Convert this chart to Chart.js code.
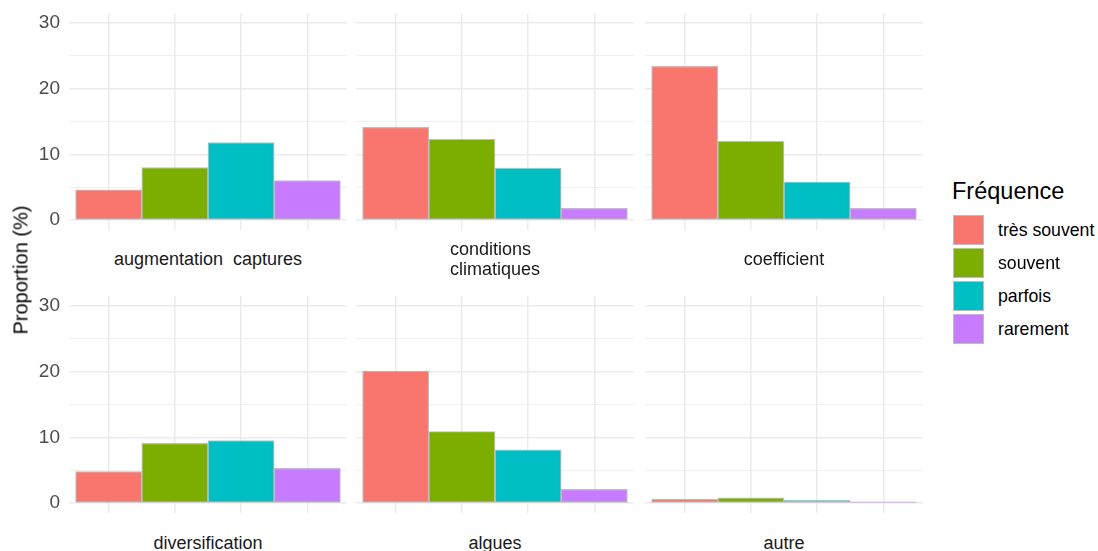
<!DOCTYPE html>
<html>
<head>
<meta charset="utf-8">
<script src="https://cdn.jsdelivr.net/npm/chart.js@4.4.1/dist/chart.umd.min.js"></script>
<style>
  html, body { margin: 0; padding: 0; background: #fff; }
  #wrap { position: relative; width: 1098px; height: 551px; overflow: hidden; font-family: "Liberation Sans", Arial, sans-serif; }
  .cv { position: absolute; }
  .lbl { position: absolute; transform: translate(-50%, -50%); white-space: pre; color: #1a1a1a; font-size: 18px; line-height: 20px; }
  #ytitle { position: absolute; left: 21px; top: 270px; transform: translate(-50%, -50%) rotate(-90deg); font-size: 20px; color: #000; white-space: nowrap; }
  #legTitle { position: absolute; left: 952px; top: 178px; font-size: 23.5px; color: #000; white-space: nowrap; }
  .key { position: absolute; left: 953px; width: 29px; height: 28px; border: 1px solid #bdbdbd; }
  .ktxt { position: absolute; left: 998px; font-size: 17.7px; color: #000; white-space: nowrap; transform: translateY(-50%); }
</style>
</head>
<body>
<div id="wrap"></div>
<script>
// ---- data ----
const facetLabels = ['augmentation  captures', 'conditions\nclimatiques', 'coefficient', 'diversification', 'algues', 'autre'];
const frequences = ['très souvent', 'souvent', 'parfois', 'rarement'];
const tresSouvent = [4.6, 14.1, 23.4, 4.8, 20.1, 0.6];
const souvent     = [8.0, 12.3, 12.0, 9.1, 10.9, 0.8];
const parfois     = [11.8, 7.9, 5.8, 9.5, 8.1, 0.45];
const rarement    = [6.0, 1.8, 1.8, 5.3, 2.1, 0.2];
const yTicks = [0, 10, 20, 30];
const yMinorTicks = [5, 15, 25];
const xPositions = [1, 2, 3, 4];
const yTitle = 'Proportion (%)';
const legendTitle = 'Fréquence';

const series = [tresSouvent, souvent, parfois, rarement];
const colors = ['#F8766D', '#7CAE00', '#00BFC4', '#C77CFF'];

// ---- layout ----
const colLeft = [69, 356, 645];
const panelW = 278;
const rowTop = [13, 296];
const panelH = 217;
const pad = 14;

const wrap = document.getElementById('wrap');

facetLabels.forEach((lab, i) => {
  const col = i % 3, row = Math.floor(i / 3);
  const left = col === 0;
  const cv = document.createElement('canvas');
  cv.className = 'cv';
  const x0 = left ? 0 : colLeft[col];
  const w = left ? colLeft[0] + panelW : panelW;
  const h = panelH + 2 * pad;
  cv.style.left = x0 + 'px';
  cv.style.top = (rowTop[row] - pad) + 'px';
  cv.style.width = w + 'px';
  cv.style.height = h + 'px';
  cv.width = w; cv.height = h;
  wrap.appendChild(cv);

  const allY = yTicks.concat(yMinorTicks).sort((a, b) => a - b);

  new Chart(cv, {
    type: 'bar',
    data: {
      datasets: [{
        data: xPositions.map((x, j) => ({ x: x, y: series[j][i] })),
        backgroundColor: colors,
        borderColor: '#bdbdbd',
        borderWidth: 1.2,
        borderSkipped: false,
        barPercentage: 1,
        categoryPercentage: 1
      }]
    },
    options: {
      responsive: false,
      animation: false,
      devicePixelRatio: 1,
      layout: { padding: { top: pad, bottom: pad, left: 0, right: 0 } },
      plugins: { legend: { display: false }, tooltip: { enabled: false } },
      scales: {
        x: {
          type: 'linear',
          offset: false,
          min: 0.4, max: 4.6,
          afterBuildTicks: s => { s.ticks = xPositions.map(v => ({ value: v })); },
          ticks: { display: false },
          grid: { color: '#ebebeb', lineWidth: 1.5, drawTicks: false, offset: false },
          border: { display: false },
          afterFit: s => { s.height = 0; s.paddingLeft = 0; s.paddingRight = 0; }
        },
        y: {
          min: -1.5, max: 31.5,
          afterBuildTicks: s => { s.ticks = allY.map(v => ({ value: v })); },
          ticks: {
            display: left,
            padding: 9,
            color: '#4d4d4d',
            font: { family: '"Liberation Sans", Arial, sans-serif', size: 19 },
            callback: v => yTicks.includes(v) ? String(v) : ''
          },
          grid: {
            drawTicks: false,
            color: '#ebebeb',
            lineWidth: ctx => yTicks.includes(ctx.tick && ctx.tick.value) ? 1.5 : 0.8
          },
          border: { display: false },
          afterFit: s => { s.width = left ? colLeft[0] : 0; s.paddingTop = 0; s.paddingBottom = 0; }
        }
      }
    }
  });

  const d = document.createElement('div');
  d.className = 'lbl';
  d.textContent = lab;
  const cx = colLeft[col] + panelW / 2;
  d.style.left = cx + 'px';
  d.style.top = (row === 0 ? 259 : 543) + 'px';
  if (lab.includes('\n')) { d.style.textAlign = 'left'; }
  wrap.appendChild(d);
});

const yt = document.createElement('div');
yt.id = 'ytitle'; yt.textContent = yTitle; wrap.appendChild(yt);

const lt = document.createElement('div');
lt.id = 'legTitle'; lt.textContent = legendTitle; wrap.appendChild(lt);
frequences.forEach((f, j) => {
  const top = 215 + j * 33;
  const k = document.createElement('div');
  k.className = 'key'; k.style.top = top + 'px'; k.style.background = colors[j];
  wrap.appendChild(k);
  const t = document.createElement('div');
  t.className = 'ktxt'; t.style.top = (top + 15) + 'px'; t.textContent = f;
  wrap.appendChild(t);
});
</script>
</body>
</html>
